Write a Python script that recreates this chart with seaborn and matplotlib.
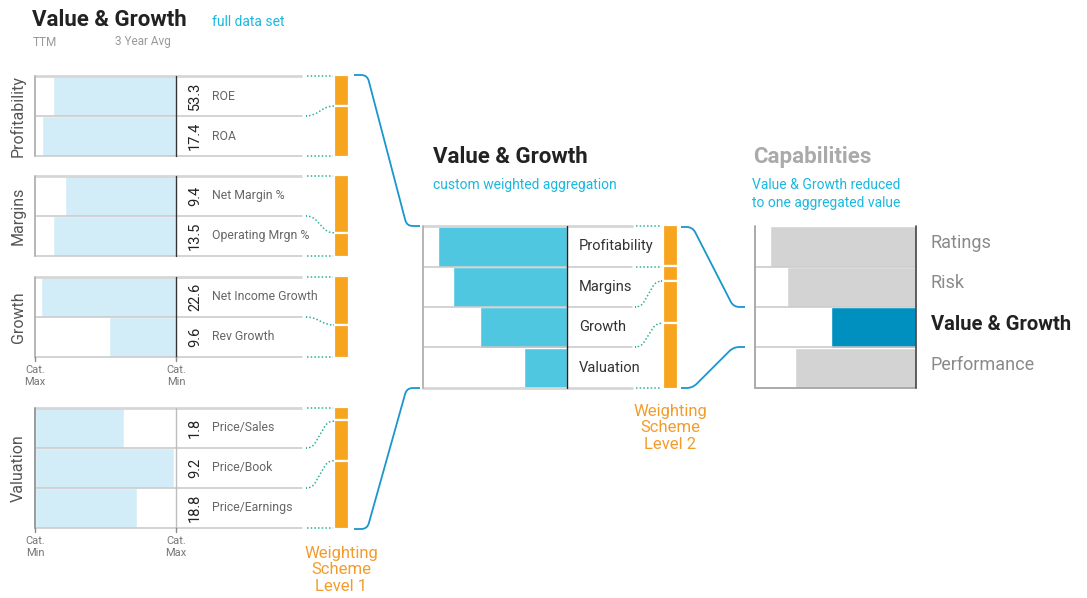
import numpy as np
import pandas as pd
import seaborn as sns
import matplotlib.pyplot as plt
from matplotlib.path import Path
from matplotlib.patches import PathPatch

sns.set_theme(style='white')
plt.rcParams['font.family'] = ['Roboto', 'DejaVu Sans']

# ---- data (scores are 0..1 positions between category min / max) ----
profit_metrics = ['ROE', 'ROA']
profit_values = ['53.3', '17.4']
profit_scores = [0.872, 0.950]
profit_weights = [0.375, 0.625]

margin_metrics = ['Net Margin %', 'Operating Mrgn %']
margin_values = ['9.4', '13.5']
margin_scores = [0.787, 0.872]
margin_weights = [0.71, 0.29]

growth_metrics = ['Net Income Growth', 'Rev Growth']
growth_values = ['22.6', '9.6']
growth_scores = [0.957, 0.475]
growth_weights = [0.60, 0.40]

valuation_metrics = ['Price/Sales', 'Price/Book', 'Price/Earnings']
valuation_values = ['1.8', '9.2', '18.8']
valuation_scores = [0.631, 0.986, 0.723]
valuation_weights = [0.11, 0.33, 0.56]

group_names = ['Profitability', 'Margins', 'Growth', 'Valuation']
group_scores = [0.896, 0.790, 0.604, 0.299]
group_weights = [0.25, 0.09, 0.26, 0.40]

capabilities = ['Ratings', 'Risk', 'Value & Growth', 'Performance']
capability_scores = [0.907, 0.800, 0.530, 0.753]

# ---- style ----
W, H = 1087, 598
LIGHT_BLUE = '#d3edf8'
MID_BLUE = '#50c7e1'
DARK_BLUE = '#0090bf'
GREY_BAR = '#d3d3d3'
ORANGE = '#f7a51e'
ORANGE_TXT = '#f39c2c'
CYAN_TXT = '#1ab8e0'
LINK_BLUE = '#1a96cf'
TEAL = '#2bb39b'

fig = plt.figure(figsize=(W / 100, H / 100), dpi=100)


def px_axes(x0, y0, x1, y1):
    return fig.add_axes([x0 / W, 1 - y1 / H, (x1 - x0) / W, (y1 - y0) / H])


def bar_panel(x0, y0, x1, y1, labels, scores, colors, reverse=True):
    ax = px_axes(x0, y0, x1, y1)
    df = pd.DataFrame({'label': labels, 'score': scores})
    sns.barplot(data=df, x='score', y='label', hue='label', palette=colors,
                orient='h', width=1.0, saturation=1, legend=False, ax=ax)
    ax.set_xlim((1, 0) if reverse else (0, 1))
    ax.set_ylim(len(labels) - 0.5, -0.5)
    ax.set_axis_off()
    ax.patch.set_alpha(0)
    return ax


def weight_bar(x0, y0, x1, y1, weights):
    ax = px_axes(x0 - 1, y0 - 1, x1 + 1, y1 + 1)
    bottoms = np.concatenate([[0], np.cumsum(weights)[:-1]])
    ax.bar(np.zeros(len(weights)), weights, bottom=bottoms, width=1,
           color=ORANGE, edgecolor='white', linewidth=1.6)
    ax.set_xlim(-0.5, 0.5)
    ax.set_ylim(sum(weights), 0)
    ax.set_axis_off()
    ax.patch.set_alpha(0)


def connector(ax, x0, y0, x1, y1, frac=0.2, r=6, **kw):
    if abs(y1 - y0) < 1.5:
        ax.plot([x0, x1], [y0, y0], **kw)
        return
    xa, xb = x0 + (x1 - x0) * frac, x1 - (x1 - x0) * frac
    d = np.array([xb - xa, y1 - y0])
    u = d / np.hypot(*d)
    r = min(r, np.hypot(*d) / 3)
    verts = [(x0, y0), (xa - r, y0), (xa, y0), (xa + r * u[0], y0 + r * u[1]),
             (xb - r * u[0], y1 - r * u[1]), (xb, y1), (xb + r, y1), (x1, y1)]
    codes = [Path.MOVETO, Path.LINETO, Path.CURVE3, Path.CURVE3,
             Path.LINETO, Path.CURVE3, Path.CURVE3, Path.LINETO]
    ax.add_patch(PathPatch(Path(verts, codes), fill=False, **kw))


# ---- left panel: full data set ----
left_groups = [
    ('Profitability', profit_metrics, profit_values, profit_scores, profit_weights, 76, True),
    ('Margins', margin_metrics, margin_values, margin_scores, margin_weights, 176, True),
    ('Growth', growth_metrics, growth_values, growth_scores, growth_weights, 277, True),
    ('Valuation', valuation_metrics, valuation_values, valuation_scores, valuation_weights, 408, False),
]
ROW = 40
LX0, LX1 = 35, 176

for name, metrics, vals, scores, weights, top, rev in left_groups:
    bottom = top + ROW * len(metrics)
    bar_panel(LX0, top, LX1, bottom, metrics, scores, [LIGHT_BLUE] * len(metrics), reverse=rev)
    weight_bar(335, top, 348, bottom, weights)

# center panel
bar_panel(423, 226, 567, 388, group_names, group_scores, [MID_BLUE] * 4)
weight_bar(664, 226, 677, 388, group_weights)

# right panel
cap_colors = [DARK_BLUE if c == 'Value & Growth' else GREY_BAR for c in capabilities]
bar_panel(755, 226, 916, 388, capabilities, capability_scores, cap_colors)

# ---- overlay for lines and text ----
ov = fig.add_axes([0, 0, 1, 1])
ov.set_xlim(0, W)
ov.set_ylim(H, 0)
ov.set_axis_off()
ov.patch.set_alpha(0)

dot = dict(color=TEAL, lw=1.1, linestyle=(0, (1, 1.4)))

for name, metrics, vals, scores, weights, top, rev in left_groups:
    n = len(metrics)
    bottom = top + ROW * n
    # row lines
    ov.plot([LX0, 302], [top, top], color='#d6d6d6', lw=2, solid_capstyle='butt')
    for i in range(1, n + 1):
        ov.plot([LX0, 302], [top + ROW * i] * 2, color='#c8c8c8', lw=1.1)
    ov.plot([LX0, LX0], [top, bottom], color='#9a9a9a' if not rev else '#b5b5b5', lw=1.4)
    ov.plot([LX1, LX1], [top, bottom], color='#333333' if rev else '#bdbdbd', lw=1.0)
    # labels
    ov.text(18, (top + bottom) / 2, name, rotation=90, ha='center', va='center',
            fontsize=11.5, color='#555555')
    for i, (m, v) in enumerate(zip(metrics, vals)):
        yc = top + ROW * i + ROW / 2
        ov.text(195, yc, v, rotation=90, ha='center', va='center', fontsize=10.5, color='#222222')
        ov.text(212, yc, m, ha='left', va='center', fontsize=8.8, color='#666666')
    # dotted links to weighting scheme
    cum = np.concatenate([[0], np.cumsum(weights)]) / sum(weights)
    for i in range(n + 1):
        connector(ov, 307, top + ROW * i, 333, top + cum[i] * (bottom - top), **dot)

# Cat. min / max ticks
for ybase, labs in [(357, ['Cat.\nMax', 'Cat.\nMin']), (528, ['Cat.\nMin', 'Cat.\nMax'])]:
    for x, lab in zip([LX0, LX1], labs):
        ov.plot([x, x], [ybase, ybase + 4], color='#888888', lw=1)
        ov.text(x, ybase + 8, lab, ha='center', va='top', fontsize=8,
                color='#777777', linespacing=1.25)

# center panel decorations
for i, y in enumerate([226, 267, 307, 347, 388]):
    ov.plot([423, 632], [y, y], color='#d6d6d6' if i in (0, 4) else '#c8c8c8',
            lw=2 if i in (0, 4) else 1.1)
ov.plot([423, 423], [226, 388], color='#b5b5b5', lw=1.4)
ov.plot([567, 567], [226, 388], color='#222222', lw=1.0)
for i, g in enumerate(group_names):
    ov.text(579, 226 + 40.5 * i + 20, g, ha='left', va='center', fontsize=10.5, color='#333333')
cum2 = np.concatenate([[0], np.cumsum(group_weights)]) / sum(group_weights)
rows2 = [226, 267, 307, 347, 388]
for i in range(5):
    connector(ov, 636, rows2[i], 661, 226 + cum2[i] * 162, **dot)

# right panel decorations
for y in [267, 307, 347]:
    ov.plot([755, 916], [y, y], color='#c8c8c8', lw=1.1)
ov.plot([755, 755], [226, 388], color='#aaaaaa', lw=1.4)
ov.plot([755, 916], [388, 388], color='#aaaaaa', lw=1.4)
ov.plot([916, 916], [226, 388], color='#444444', lw=1.2)
for i, c in enumerate(capabilities):
    yc = 226 + 40.5 * i + 17
    if c == 'Value & Growth':
        ov.text(931, yc, c, ha='left', va='center', fontsize=14.5, fontweight='bold', color='#222222')
    else:
        ov.text(931, yc, c, ha='left', va='center', fontsize=13, color='#8a8a8a')

# blue links between levels
link = dict(color=LINK_BLUE, lw=1.3)
connector(ov, 354, 75, 420, 226, **link)
connector(ov, 354, 529, 420, 388, **link)
connector(ov, 681, 227, 745, 307, frac=0.18, **link)
connector(ov, 681, 388, 745, 347, frac=0.18, **link)

# titles
ov.text(32, 20, 'Value & Growth', ha='left', va='center', fontsize=16, fontweight='bold', color='#222222')
ov.text(212, 22, 'full data set', ha='left', va='center', fontsize=10, color=CYAN_TXT)
ov.text(33, 42, 'TTM', ha='left', va='center', fontsize=8.5, color='#999999')
ov.text(115, 41, '3 Year Avg', ha='left', va='center', fontsize=8.5, color='#999999')

ov.text(433, 157, 'Value & Growth', ha='left', va='center', fontsize=16, fontweight='bold', color='#222222')
ov.text(433, 185, 'custom weighted aggregation', ha='left', va='center', fontsize=10, color=CYAN_TXT)

ov.text(753, 157, 'Capabilities', ha='left', va='center', fontsize=16, fontweight='bold', color='#aaaaaa')
ov.text(752, 194, 'Value & Growth reduced\nto one aggregated value', ha='left', va='center',
        fontsize=10, color=CYAN_TXT, linespacing=1.3)

ov.text(341, 570, 'Weighting\nScheme\nLevel 1', ha='center', va='center', fontsize=12,
        color=ORANGE_TXT, linespacing=1.15)
ov.text(670, 428, 'Weighting\nScheme\nLevel 2', ha='center', va='center', fontsize=12,
        color=ORANGE_TXT, linespacing=1.15)

fig.savefig('out.png', dpi=100, facecolor='white')
